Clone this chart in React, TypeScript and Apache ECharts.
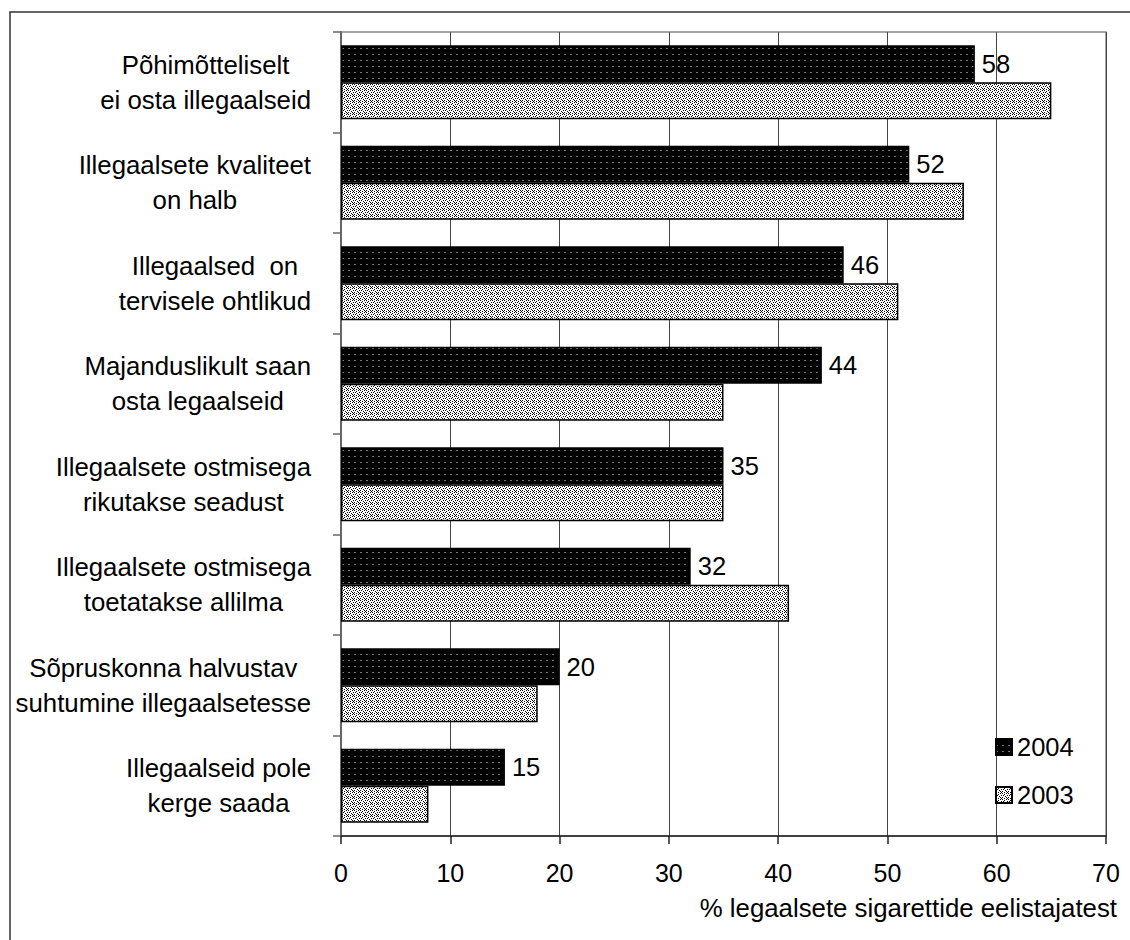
import React, { useEffect, useRef } from "react";
import * as echarts from "echarts";

const categories: string[] = [
  "Põhimõtteliselt\nei osta illegaalseid",
  "Illegaalsete kvaliteet\non halb",
  "Illegaalsed  on\ntervisele ohtlikud",
  "Majanduslikult saan\nosta legaalseid",
  "Illegaalsete ostmisega\nrikutakse seadust",
  "Illegaalsete ostmisega\ntoetatakse allilma",
  "Sõpruskonna halvustav\nsuhtumine illegaalsetesse",
  "Illegaalseid pole\nkerge saada",
];
const values2004: number[] = [58, 52, 46, 44, 35, 32, 20, 15];
const values2003: number[] = [65, 57, 51, 35, 35, 41, 18, 8];
const seriesNames: string[] = ["2004", "2003"];
const axisTitle = "% legaalsete sigarettide eelistajatest";

const FONT = "'Liberation Sans', Arial, sans-serif";

function makePattern(rows: string[], on: string, off: string, gray?: string) {
  const h = rows.length;
  const w = rows[0].length;
  const c = document.createElement("canvas");
  c.width = w;
  c.height = h;
  const ctx = c.getContext("2d")!;
  for (let y = 0; y < h; y++) {
    for (let x = 0; x < w; x++) {
      const ch = rows[y][x];
      ctx.fillStyle = ch === "X" ? on : ch === "g" && gray ? gray : off;
      ctx.fillRect(x, y, 1, 1);
    }
  }
  return { image: c, repeat: "repeat", imageWidth: w, imageHeight: h } as any;
}

export default function App() {
  const ref = useRef<HTMLDivElement>(null);
  useEffect(() => {
    if (!ref.current) return;
    const chart = echarts.init(ref.current, null, { renderer: "svg" });
    const pat2004 = makePattern(
      ["gg....", "......", "......", "......", "......", "......"],
      "#000",
      "#000",
      "#777"
    );
    const pat2003 = makePattern(
      ["X...X.", "..X...", ".X...X", "...X..", "X...X.", "..X..X"],
      "#000",
      "#fff"
    );
    chart.setOption({
      animation: false,
      backgroundColor: "#fff",
      textStyle: { fontFamily: FONT, color: "#000" },
      grid: {
        left: 341,
        right: 24,
        top: 32,
        bottom: 104,
        show: true,
        borderColor: "#888",
        borderWidth: 1.5,
      },
      legend: {
        orient: "vertical",
        left: 990,
        top: 729,
        itemWidth: 16,
        itemHeight: 16,
        itemGap: 22,
        icon: "rect",
        data: seriesNames,
        textStyle: { fontSize: 25.5, color: "#000", fontFamily: FONT },
      },
      xAxis: {
        type: "value",
        min: 0,
        max: 70,
        interval: 10,
        axisLine: { show: true, lineStyle: { color: "#222", width: 1.5 } },
        axisTick: { show: true, length: 8, lineStyle: { color: "#222", width: 1.5 } },
        axisLabel: { fontSize: 25, color: "#000", margin: 24, fontFamily: FONT },
        splitLine: { show: true, lineStyle: { color: "#444", width: 1 } },
      },
      yAxis: {
        type: "category",
        inverse: true,
        data: categories,
        axisLine: { show: true, lineStyle: { color: "#666", width: 2 } },
        axisTick: { show: true, length: 8, lineStyle: { color: "#666", width: 1.5 } },
        axisLabel: {
          margin: 30,
          align: "right",
          formatter: (v: string) =>
            v
              .split("\n")
              .map((l) => "{c|" + l + "}")
              .join("\n"),
          rich: {
            c: { align: "center", fontSize: 25.8, lineHeight: 35, color: "#000", fontFamily: FONT },
          },
        },
      },
      graphic: [
        {
          type: "rect",
          shape: { x: 10, y: 12, width: 1300, height: 1100 },
          style: { fill: "none", stroke: "#333", lineWidth: 1.5 },
          silent: true,
        },
        {
          type: "text",
          right: 13,
          top: 895,
          style: { text: axisTitle, fontSize: 25.8, fill: "#000", fontFamily: FONT },
        },
      ],
      series: [
        {
          name: seriesNames[0],
          type: "bar",
          data: values2004,
          barWidth: 37,
          barGap: "0%",
          itemStyle: { color: pat2004, borderColor: "#000", borderWidth: 1.5 },
          label: {
            show: true,
            position: "right",
            distance: 7,
            fontSize: 25.5,
            color: "#000",
            fontFamily: FONT,
          },
        },
        {
          name: seriesNames[1],
          type: "bar",
          data: values2003,
          barWidth: 37,
          barGap: "0%",
          itemStyle: { color: pat2003, borderColor: "#000", borderWidth: 1.5 },
        },
      ],
    });
    return () => chart.dispose();
  }, []);
  return (
    <div
      ref={ref}
      style={{ position: "absolute", left: 0, top: 0, width: 1130, height: 940 }}
    />
  );
}
